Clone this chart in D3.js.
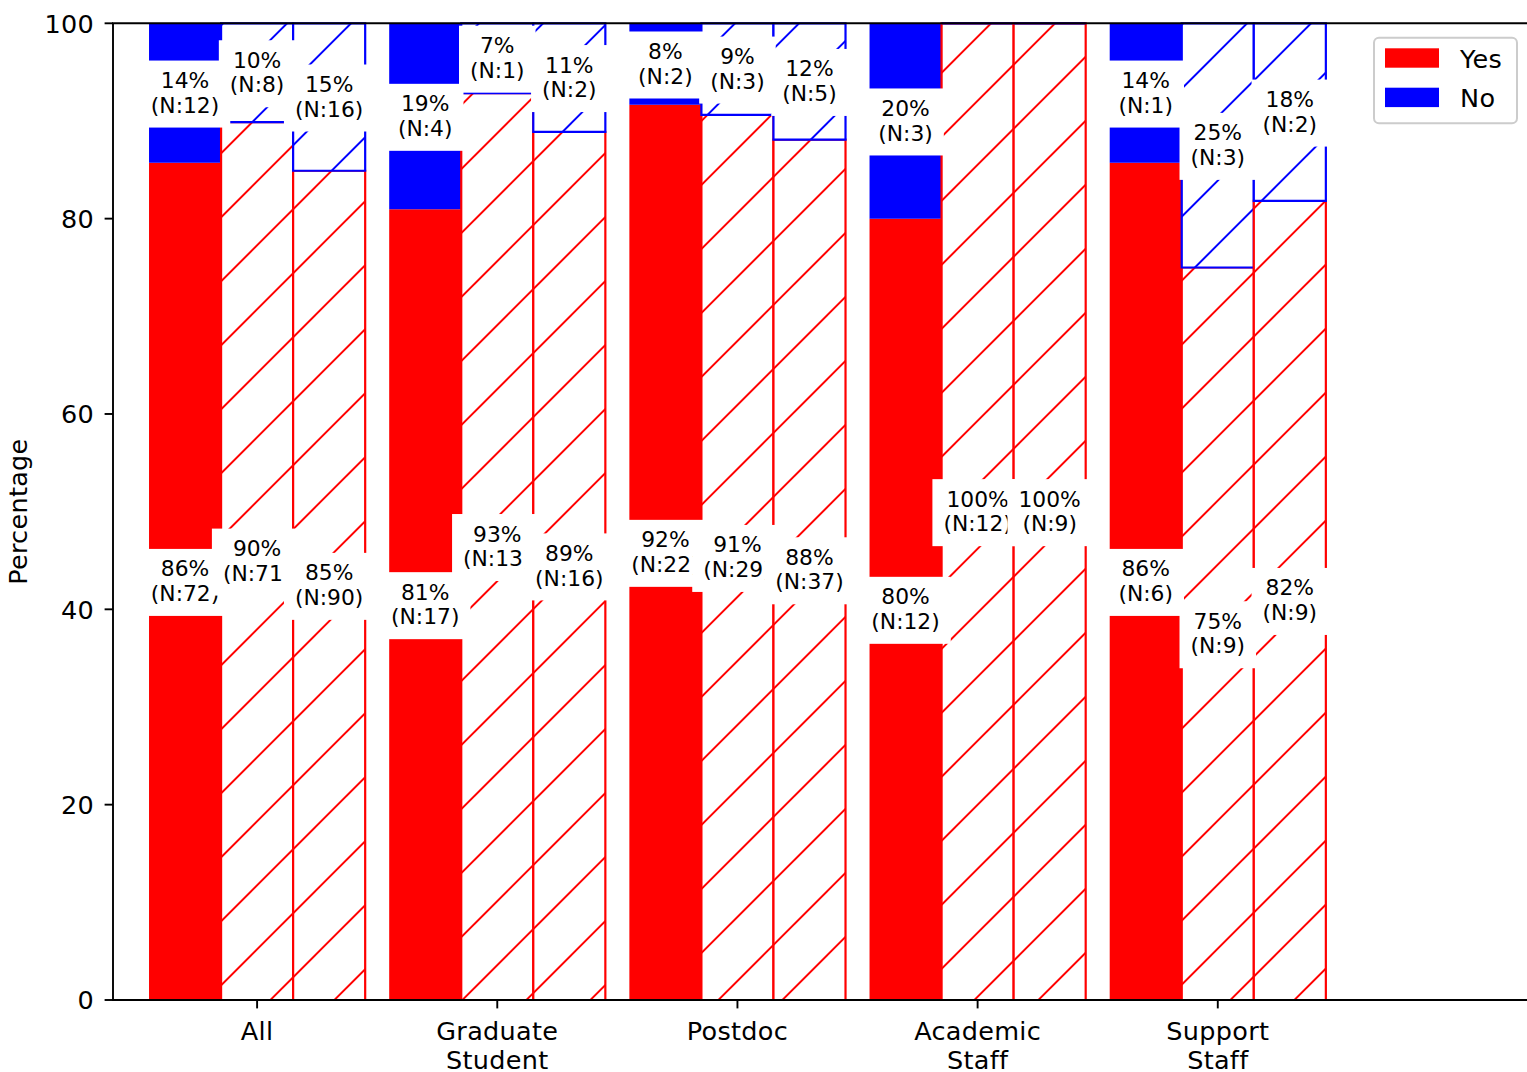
<!DOCTYPE html>
<html><head><meta charset="utf-8">
<script src="https://cdn.jsdelivr.net/npm/d3@7"></script>
<style>body{margin:0;background:#fff} svg{display:block} text{font-family:"DejaVu Sans",sans-serif;fill:#000}
.big{font-size:25.5px;letter-spacing:0.3px}</style>
</head><body><svg id="c" width="1527" height="1072"></svg>
<script>
// ---- data ----
const categories = ["All", "Graduate\nStudent", "Postdoc", "Academic\nStaff", "Support\nStaff"];
const yesSolid  = [72, 17, 22, 12, 6];
const noSolid   = [12, 4, 2, 3, 1];
const yesHatch1 = [71, 13, 29, 12, 9];
const noHatch1  = [8, 1, 3, 0, 3];
const yesHatch2 = [90, 16, 37, 9, 9];
const noHatch2  = [16, 2, 5, 0, 2];
const yTicks = [0, 20, 40, 60, 80, 100];
const legendLabels = ["Yes", "No"];
const colors = {Yes: "#ff0000", No: "#0000ff"};

// ---- setup ----
const svg = d3.select("#c");
const x = d3.scaleLinear().domain([-0.6, 5.3]).range([113, 1530]);
const y = d3.scaleLinear().domain([0, 100]).range([1000, 23.3]);
const barW = 0.3;
const barSets = [
  {yes: yesSolid, no: noSolid, offset: -1, hatch: false},
  {yes: yesHatch1, no: noHatch1, offset: 0, hatch: true},
  {yes: yesHatch2, no: noHatch2, offset: 1, hatch: true}
];

const defs = svg.append("defs");
legendLabels.forEach(k => {
  const p = defs.append("pattern").attr("id", "h" + k)
    .attr("patternUnits", "userSpaceOnUse").attr("width", 64).attr("height", 64);
  p.append("rect").attr("width", 64).attr("height", 64).attr("fill", "#fff");
  [54.4, 118.4].forEach(c => {
    p.append("line").attr("x1", c - 74).attr("y1", 74).attr("x2", 74).attr("y2", c - 74)
      .attr("stroke", colors[k]).attr("stroke-width", 2);
  });
});

const barsG = svg.append("g");
function segPath(l, r, v0, v1) {
  const p = d3.path();
  p.moveTo(l, y(v0)); p.lineTo(r, y(v0)); p.lineTo(r, y(v1)); p.lineTo(l, y(v1)); p.closePath();
  return p.toString();
}
barSets.forEach(s => {
  ["Yes", "No"].forEach(k => {
    categories.forEach((c, i) => {
      const tot = s.yes[i] + s.no[i];
      const pY = s.yes[i] / tot * 100;
      const l = x(i + s.offset * barW - barW / 2), r = x(i + s.offset * barW + barW / 2);
      const v0 = k === "Yes" ? 0 : pY, v1 = k === "Yes" ? pY : 100;
      const path = barsG.append("path").attr("d", segPath(l, r, v0, v1));
      if (s.hatch) {
        path.attr("fill", "url(#h" + k + ")").attr("stroke", colors[k]).attr("stroke-width", 2.2);
      } else {
        path.attr("fill", colors[k]);
      }
    });
  });
});

// ---- axes ----
const axG = svg.append("g");
axG.append("line").attr("x1", 113).attr("x2", 113).attr("y1", 23.3).attr("y2", 1000).attr("stroke", "#000").attr("stroke-width", 1.9);
axG.append("line").attr("x1", 112).attr("x2", 1530).attr("y1", 1000).attr("y2", 1000).attr("stroke", "#000").attr("stroke-width", 1.9);
axG.append("line").attr("x1", 112).attr("x2", 1530).attr("y1", 23.3).attr("y2", 23.3).attr("stroke", "#000").attr("stroke-width", 1.9);

yTicks.forEach(t => {
  axG.append("line").attr("x1", 104.6).attr("x2", 113).attr("y1", y(t)).attr("y2", y(t)).attr("stroke", "#000").attr("stroke-width", 1.9);
  axG.append("text").attr("class", "big").attr("x", 94).attr("y", y(t) + 9.3).attr("text-anchor", "end").text(t);
});
categories.forEach((c, i) => {
  axG.append("line").attr("x1", x(i)).attr("x2", x(i)).attr("y1", 1000).attr("y2", 1008.4).attr("stroke", "#000").attr("stroke-width", 1.9);
  const t = axG.append("text").attr("class", "big").attr("text-anchor", "middle");
  c.split("\n").forEach((ln, j) => {
    t.append("tspan").attr("x", x(i)).attr("y", 1040 + j * 28.5).text(ln);
  });
});
axG.append("text").attr("class", "big").attr("transform", "translate(26.5," + ((y(0) + y(100)) / 2) + ") rotate(-90)")
  .attr("text-anchor", "middle").text("Percentage");

// ---- value labels ----
const labG = svg.append("g");
barSets.forEach(s => {
  categories.forEach((c, i) => {
    const tot = s.yes[i] + s.no[i];
    const xc = x(i + s.offset * barW);
    [["Yes", s.yes[i]], ["No", s.no[i]]].forEach(([k, n]) => {
      if (n <= 0) return;
      const pct = n / tot * 100;
      const pY = s.yes[i] / tot * 100;
      const mid = k === "Yes" ? pY / 2 : pY + (100 - pY) / 2;
      const cy = y(mid);
      const g = labG.append("g");
      const box = g.append("rect").attr("fill", "#fff");
      const t1 = g.append("text").attr("x", xc).attr("y", cy - 5).attr("text-anchor", "middle")
        .style("font-size", "21.8px").text(Math.round(pct) + "%");
      const t2 = g.append("text").attr("x", xc).attr("y", cy + 19.6).attr("text-anchor", "middle")
        .style("font-size", "21.8px").text("(N:" + n + ")");
      const w = Math.max(t1.node().getComputedTextLength(), t2.node().getComputedTextLength()) + 22;
      box.attr("x", xc - w / 2).attr("y", cy - 32.5).attr("width", w).attr("height", 67);
    });
  });
});

// ---- legend ----
const lg = svg.append("g");
lg.append("rect").attr("x", 1374).attr("y", 37.7).attr("width", 143).attr("height", 85.6).attr("rx", 5)
  .attr("fill", "#fff").attr("fill-opacity", 0.8).attr("stroke", "#cccccc").attr("stroke-width", 2);
legendLabels.forEach((k, j) => {
  lg.append("rect").attr("x", 1385).attr("y", 48.3 + j * 39.4).attr("width", 54).attr("height", 19.4).attr("fill", colors[k]);
  lg.append("text").attr("class", "big").attr("x", 1460).attr("y", 68.3 + j * 38.4).text(k);
});
</script>
</body></html>
